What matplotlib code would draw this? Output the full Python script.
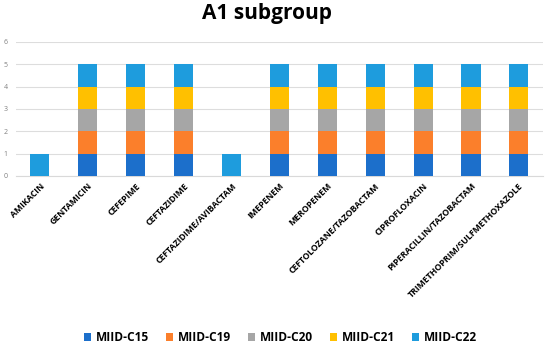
import matplotlib
matplotlib.use("Agg")
import matplotlib.pyplot as plt
import numpy as np

drugs = [
    "AMIKACIN", "GENTAMICIN", "CEFEPIME", "CEFTAZIDIME",
    "CEFTAZIDIME/AVIBACTAM", "IMEPENEM", "MEROPENEM",
    "CEFTOLOZANE/TAZOBACTAM", "CIPROFLOXACIN",
    "PIPERACILLIN/TAZOBACTAM", "TRIMETHOPRIM/SULFMETHOXAZOLE",
]
miid_c15 = [0, 1, 1, 1, 0, 1, 1, 1, 1, 1, 1]
miid_c19 = [0, 1, 1, 1, 0, 1, 1, 1, 1, 1, 1]
miid_c20 = [0, 1, 1, 1, 0, 1, 1, 1, 1, 1, 1]
miid_c21 = [0, 1, 1, 1, 0, 1, 1, 1, 1, 1, 1]
miid_c22 = [1, 1, 1, 1, 1, 1, 1, 1, 1, 1, 1]

series = [
    ("MIID-C15", miid_c15, "#1C6FCB"),
    ("MIID-C19", miid_c19, "#FB7F2B"),
    ("MIID-C20", miid_c20, "#A6A6A6"),
    ("MIID-C21", miid_c21, "#FFC000"),
    ("MIID-C22", miid_c22, "#1E9CDD"),
]

plt.rcParams["font.family"] = ["Open Sans", "DejaVu Sans"]

fig = plt.figure(figsize=(5.5, 3.49), dpi=100)
ax = fig.add_axes([0.029, 0.496, 0.958, 0.384])

x = np.arange(len(drugs))
bottom = np.zeros(len(drugs))
for label, values, color in series:
    vals = np.array(values, dtype=float)
    ax.bar(x, vals, bottom=bottom, width=0.4, color=color, label=label, zorder=3)
    bottom += vals

ax.set_xlim(-0.5, len(drugs) - 0.5)
ax.set_ylim(0, 6)
ax.set_yticks(range(7))
ax.tick_params(axis="y", labelsize=5, colors="#808080", length=0, pad=6)
ax.grid(axis="y", color="#DDDDDD", linewidth=0.8, zorder=0)
for side in ("top", "right", "left"):
    ax.spines[side].set_visible(False)
ax.spines["bottom"].set_color("#D9D9D9")

ax.set_xticks(x)
ax.set_xticklabels(drugs, rotation=45, ha="right", rotation_mode="anchor",
                   fontsize=6.3, fontweight="bold")
ax.tick_params(axis="x", length=0, pad=4)

fig.suptitle("A1 subgroup", x=0.485, y=0.99, fontsize=15, fontweight="bold")

fig.legend(loc="center", bbox_to_anchor=(0.51, 0.032), ncol=5, frameon=False,
           prop={"size": 8.6, "weight": "bold"}, handlelength=0.6, handleheight=0.6,
           handletextpad=0.4, columnspacing=1.4)

fig.savefig("out.png", dpi=100)
